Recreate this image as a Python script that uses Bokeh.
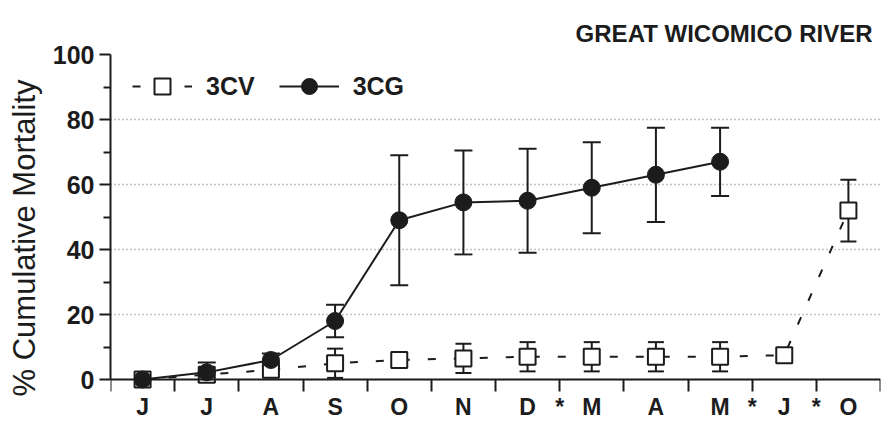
from bokeh.plotting import figure
from bokeh.models import (Range1d, LinearAxis, FixedTicker, Whisker, TeeHead,
                          Legend, LegendItem, ColumnDataSource)
from bokeh.embed import file_html
from bokeh.resources import INLINE

# ---- data ----
months = ["J", "J", "A", "S", "O", "N", "D", "M", "A", "M", "J", "O"]
gap_marks = [7, 10, 11]          # "*" between D|M, M|J, J|O
cv_mean = [0, 1.5, 3, 5, 6, 6.5, 7, 7, 7, 7, 7.5, 52]
cv_err = [0, 0, 0, 4.5, 1.5, 4.5, 4.5, 4.5, 4.5, 4.5, 0, 9.5]
cg_mean = [0, 2.2, 6, 18, 49, 54.5, 55, 59, 63, 67]
cg_err = [0, 3, 2, 5, 20, 16, 16, 14, 14.5, 10.5]
y_ticks = [0, 20, 40, 60, 80, 100]
y_minor = [10, 30, 50, 70, 90]
title_text = "GREAT WICOMICO RIVER"
y_label = "% Cumulative Mortality"

FONT = "Liberation Sans"
INK = "#1c1c1c"

cv_x = [i + 0.5 for i in range(len(cv_mean))]
cg_x = [i + 0.5 for i in range(len(cg_mean))]

p = figure(width=886, height=421, x_range=Range1d(0, 12), y_range=Range1d(-12.92, 100),
           output_backend="svg", toolbar_location=None, x_axis_location=None,
           min_border_left=110, min_border_right=6, min_border_top=54, min_border_bottom=0)
p.outline_line_color = None
p.background_fill_color = "white"
for g in p.xgrid:
    g.visible = False

# y axis
p.yaxis.ticker = FixedTicker(ticks=y_ticks, minor_ticks=y_minor)
p.yaxis.bounds = (0, 100)
p.yaxis.axis_line_width = 2
p.yaxis.axis_line_color = INK
p.yaxis.major_tick_line_width = 2
p.yaxis.major_tick_line_color = INK
p.yaxis.minor_tick_line_width = 2
p.yaxis.minor_tick_line_color = INK
p.yaxis.major_tick_in = 0
p.yaxis.major_tick_out = 11
p.yaxis.minor_tick_in = 0
p.yaxis.minor_tick_out = 7
p.yaxis.major_label_standoff = 5
p.yaxis.major_label_text_font = FONT
p.yaxis.major_label_text_font_style = "bold"
p.yaxis.major_label_text_font_size = "25px"
p.yaxis.major_label_text_color = INK
p.yaxis.axis_label = y_label
p.yaxis.axis_label_text_font = FONT
p.yaxis.axis_label_text_font_style = "normal"
p.yaxis.axis_label_text_font_size = "31px"
p.yaxis.axis_label_text_color = INK
p.yaxis.axis_label_standoff = 8

# grid
p.ygrid.ticker = FixedTicker(ticks=y_ticks)
p.ygrid.grid_line_color = "#8a8a8a"
p.ygrid.grid_line_dash = "1 3"
p.ygrid.grid_line_width = 1.5

# x axis at y = 0
overrides = {i + 0.5: m for i, m in enumerate(months)}
for g in gap_marks:
    overrides[g] = "*"
xaxis = LinearAxis(fixed_location=0,
                   ticker=FixedTicker(ticks=[i + 0.5 for i in range(len(months))] + gap_marks,
                                      minor_ticks=list(range(len(months) + 1))),
                   major_label_overrides=overrides)
xaxis.axis_line_width = 2
xaxis.axis_line_color = INK
xaxis.major_tick_in = 0
xaxis.major_tick_out = 0
xaxis.minor_tick_in = 0
xaxis.minor_tick_out = 12
xaxis.minor_tick_line_width = 2
xaxis.minor_tick_line_color = INK
xaxis.major_label_standoff = 2
xaxis.major_label_text_font = FONT
xaxis.major_label_text_font_style = "bold"
xaxis.major_label_text_font_size = "23px"
xaxis.major_label_text_color = INK
p.add_layout(xaxis, "below")

# ---- 3CV ----
cv_src = ColumnDataSource(dict(x=cv_x, y=cv_mean))
cv_line = p.line("x", "y", source=cv_src, line_color=INK, line_width=2, line_dash="8 18")
cv_w = ColumnDataSource(dict(
    x=[x for x, e in zip(cv_x, cv_err) if e > 0],
    upper=[m + e for m, e in zip(cv_mean, cv_err) if e > 0],
    lower=[m - e for m, e in zip(cv_mean, cv_err) if e > 0]))
p.add_layout(Whisker(source=cv_w, base="x", upper="upper", lower="lower",
                     line_color=INK, line_width=2,
                     upper_head=TeeHead(size=16, line_width=2, line_color=INK),
                     lower_head=TeeHead(size=16, line_width=2, line_color=INK)))
cv_pts = p.scatter("x", "y", source=cv_src, marker="square", size=16,
                   fill_color="white", line_color=INK, line_width=2)

# ---- 3CG ----
cg_src = ColumnDataSource(dict(x=cg_x, y=cg_mean))
cg_line = p.line("x", "y", source=cg_src, line_color=INK, line_width=2)
cg_w = ColumnDataSource(dict(
    x=[x for x, e in zip(cg_x, cg_err) if e > 0],
    upper=[m + e for m, e in zip(cg_mean, cg_err) if e > 0],
    lower=[m - e for m, e in zip(cg_mean, cg_err) if e > 0]))
p.add_layout(Whisker(source=cg_w, base="x", upper="upper", lower="lower",
                     line_color=INK, line_width=2,
                     upper_head=TeeHead(size=18, line_width=2, line_color=INK),
                     lower_head=TeeHead(size=18, line_width=2, line_color=INK)))
cg_pts = p.scatter("x", "y", source=cg_src, marker="circle", size=17,
                   fill_color=INK, line_color=INK, line_width=1)

# legend
legend = Legend(items=[LegendItem(label="3CV", renderers=[cv_line, cv_pts]),
                       LegendItem(label="3CG", renderers=[cg_line, cg_pts])],
                orientation="horizontal", location=(22, 315),
                padding=0, margin=0, spacing=24, label_standoff=14,
                glyph_width=60, glyph_height=40, label_height=40,
                border_line_color=None, background_fill_alpha=0,
                label_text_font=FONT, label_text_font_style="bold",
                label_text_font_size="25px", label_text_color=INK)
p.add_layout(legend)

# title
p.title.text = title_text
p.title.align = "right"
p.title.text_font = FONT
p.title.text_font_style = "bold"
p.title.text_font_size = "24px"
p.title.text_color = INK
p.title.offset = 8
p.title.standoff = 16

open("out.html", "w").write(file_html(p, INLINE))
